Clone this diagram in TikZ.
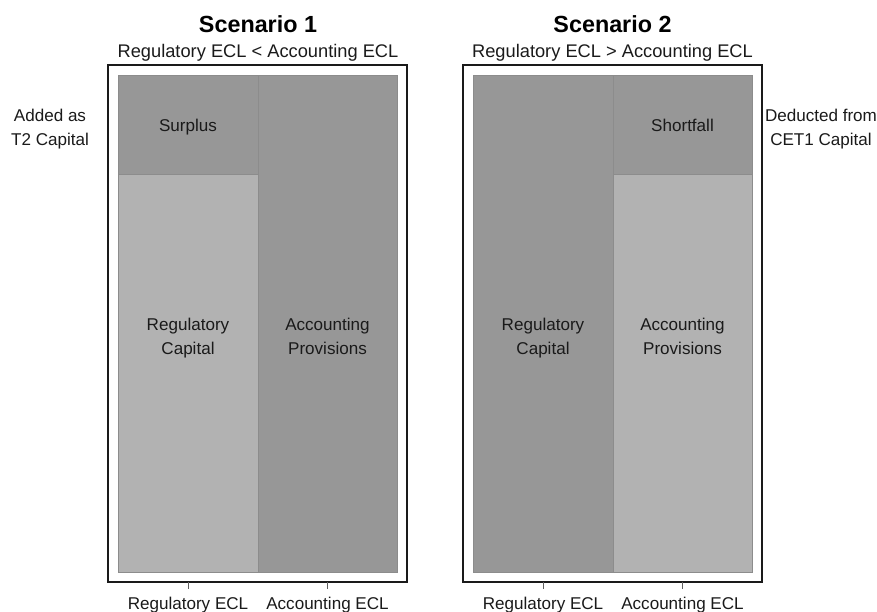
\documentclass[tikz,border=0pt]{standalone}
\usepackage{fontspec}
\setmainfont{Liberation Sans}
\definecolor{barDark}{RGB}{151,151,151}
\definecolor{barLight}{RGB}{178,178,178}
\definecolor{barEdge}{RGB}{140,140,140}
\definecolor{ink}{RGB}{26,26,26}
\begin{document}
\begin{tikzpicture}[x=0.75pt,y=-0.75pt,
  frame/.style={draw=ink,line width=1.3pt},
  darkbar/.style={fill=barDark,draw=barEdge,line width=0.4pt},
  lightbar/.style={fill=barLight,draw=barEdge,line width=0.4pt},
  title/.style={font=\fontsize{17.5}{20}\selectfont\bfseries,text=black,inner sep=0pt,anchor=base},
  subtitle/.style={font=\fontsize{13.7}{16}\selectfont,text=ink,inner sep=0pt,anchor=base},
  lbl/.style={font=\fontsize{12.8}{18}\selectfont,text=ink,align=center,inner sep=0pt,anchor=base},
  tick/.style={draw=ink!70,line width=0.6pt}]
\useasboundingbox (0,0) rectangle (877,611);

% ---- Scenario 1 ----
\fill[lightbar] (118,75) rectangle (258,572);
\fill[darkbar] (118,75) rectangle (258,174);
\fill[darkbar] (258,75) rectangle (397,572);
\draw[barEdge,line width=0.4pt] (118,75) rectangle (258,572);
\draw[barEdge,line width=0.4pt] (118,174) -- (258,174);
\draw[frame] (108,65) rectangle (407,582);
\node[title] (t1) at (258,32.5) {Scenario 1};
\node[subtitle] (s1) at (258,57.5) {Regulatory ECL < Accounting ECL};
\node[lbl] (surplus) at (188,131) {Surplus};
% two-line labels: anchor on the baseline of the second line
\node[lbl] (rc1) at (188,354) {Regulatory\\Capital};
\node[lbl] (ap1) at (327.5,354) {Accounting\\Provisions};
\node[lbl] (added) at (50,145) {Added as\\T2 Capital};
\coordinate (k1a) at (188,582);
\coordinate (k1b) at (327.5,582);
\node[lbl] (x1a) at (188,609.5) {Regulatory ECL};
\node[lbl] (x1b) at (327.5,609.5) {Accounting ECL};
\draw[tick] (k1a) -- ++(0,7);
\draw[tick] (k1b) -- ++(0,7);

% ---- Scenario 2 ----
\fill[darkbar] (473,75) rectangle (613,572);
\fill[lightbar] (613,75) rectangle (752,572);
\fill[darkbar] (613,75) rectangle (752,174);
\draw[barEdge,line width=0.4pt] (613,75) rectangle (752,572);
\draw[barEdge,line width=0.4pt] (613,174) -- (752,174);
\draw[frame] (463,65) rectangle (762,582);
\node[title] (t2) at (612.5,32.5) {Scenario 2};
\node[subtitle] (s2) at (612.5,57.5) {Regulatory ECL > Accounting ECL};
\node[lbl] (shortfall) at (682.5,131) {Shortfall};
\node[lbl] (rc2) at (543,354) {Regulatory\\Capital};
\node[lbl] (ap2) at (682.5,354) {Accounting\\Provisions};
\node[lbl] (deducted) at (821,145) {Deducted from\\CET1 Capital};
\coordinate (k2a) at (543,582);
\coordinate (k2b) at (682.5,582);
\node[lbl] (x2a) at (543,609.5) {Regulatory ECL};
\node[lbl] (x2b) at (682.5,609.5) {Accounting ECL};
\draw[tick] (k2a) -- ++(0,7);
\draw[tick] (k2b) -- ++(0,7);
\end{tikzpicture}
\end{document}
